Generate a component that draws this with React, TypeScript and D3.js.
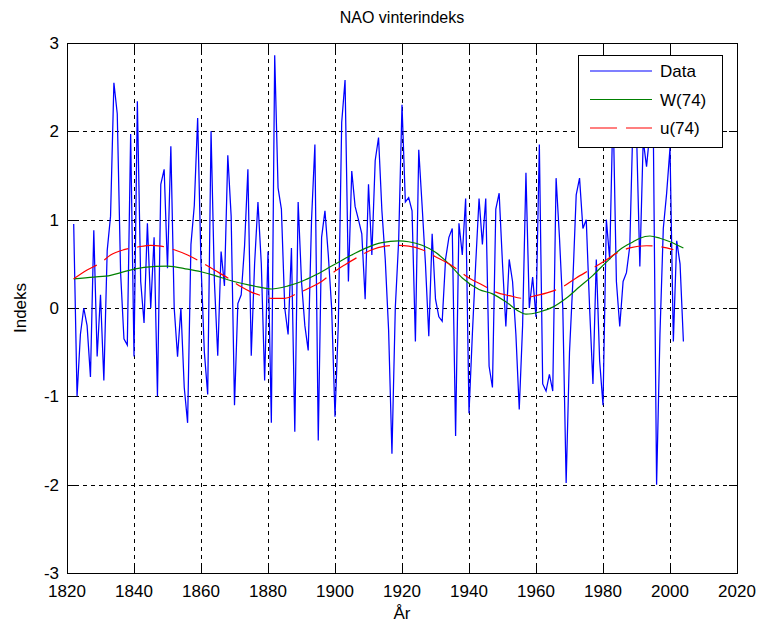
import React, { useEffect, useRef } from 'react';
import * as d3 from 'd3';

// NAO winter index, one value per year starting at startYear
const startYear = 1822;
const naoValues = [
  0.95, -1.0, -0.3, 0.0, -0.2, -0.78, 0.88, -0.55, 0.15, -0.82, // 1822-1831
  0.65, 1.04, 2.55, 2.2, 0.4, -0.35, -0.42, 1.97, -0.55, 2.34, // 1832-1841
  0.3, -0.17, 0.96, 0.0, 0.8, -1.0, 1.4, 1.57, 0.45, 1.83, // 1842-1851
  0.0, -0.55, 0.0, -0.9, -1.3, 0.72, 1.16, 2.15, 0.5, -0.5, // 1852-1861
  -0.98, 2.0, 0.3, -0.54, 0.64, 0.25, 1.73, 1.04, -1.1, 0.05, // 1862-1871
  0.15, 0.7, 1.57, -0.54, 0.5, 1.2, 0.5, -0.82, 0.64, -1.3, // 1872-1881
  2.86, 1.36, 1.12, 0.0, -0.3, 0.68, -1.4, 1.2, 0.3, -0.2, // 1882-1891
  -0.48, 1.0, 1.85, -1.5, 0.8, 1.1, 0.6, 0.0, -1.23, -0.17, // 1892-1901
  2.1, 2.58, 0.3, 1.55, 1.15, 1.0, 0.84, 0.1, 1.4, 0.6, // 1902-1911
  1.67, 1.93, 1.1, 0.55, -0.25, -1.65, 0.0, 0.76, 2.3, 1.2, // 1912-1921
  1.25, 1.1, -0.38, 1.79, 1.16, 0.5, -0.32, 0.84, 0.1, -0.1, // 1922-1931
  -0.15, 0.55, 0.8, 0.9, -1.45, 0.96, 0.6, 1.24, -1.19, -0.3, // 1932-1941
  0.5, 1.24, 0.72, 1.24, -0.66, -0.9, 1.12, 1.3, 0.5, -0.21, // 1942-1951
  0.55, 0.3, -0.3, -1.15, -0.2, 1.53, 0.0, 0.35, -0.1, 1.85, // 1952-1961
  -0.86, -0.94, -0.75, -0.94, 1.47, 0.8, 0.0, -1.98, -0.5, 0.3, // 1962-1971
  1.28, 1.47, 0.9, 1.0, 0.0, -0.86, 0.55, -0.6, -1.1, 1.0, // 1972-1981
  0.55, 2.3, 0.3, -0.21, 0.3, 0.4, 0.7, 2.2, 2.0, 0.47, // 1982-1991
  1.9, 1.6, 2.0, 2.1, -2.0, -0.3, 0.9, 1.3, 1.81, -0.38, // 1992-2001
  0.76, 0.5, -0.38, // 2002-2004
];

// W(74) smoothed curve
const wYears = [1822, 1828, 1833, 1836, 1840, 1843, 1850, 1856, 1860, 1864, 1868, 1872, 1877, 1881, 1886, 1890, 1894, 1899, 1904, 1909, 1914, 1919, 1922, 1926, 1930, 1934, 1938, 1943, 1947, 1951, 1955, 1957, 1961, 1965, 1969, 1973, 1977, 1981, 1985, 1989, 1991, 1994, 1997, 2000, 2004];
const wValues = [0.33, 0.35, 0.37, 0.4, 0.44, 0.46, 0.475, 0.44, 0.41, 0.37, 0.32, 0.28, 0.24, 0.215, 0.25, 0.3, 0.37, 0.475, 0.58, 0.675, 0.74, 0.76, 0.75, 0.71, 0.63, 0.5, 0.34, 0.21, 0.16, 0.07, -0.04, -0.07, -0.045, 0.01, 0.11, 0.24, 0.37, 0.52, 0.66, 0.75, 0.79, 0.815, 0.79, 0.75, 0.68];

// u(74) smoothed curve
const uYears = [1822, 1826, 1830, 1833, 1837, 1841, 1845, 1848, 1852, 1856, 1860, 1864, 1868, 1872, 1875, 1878, 1881, 1885, 1889, 1892, 1896, 1899, 1903, 1907, 1911, 1915, 1918, 1922, 1926, 1930, 1934, 1936, 1940, 1944, 1948, 1952, 1956, 1960, 1964, 1968, 1972, 1976, 1980, 1984, 1988, 1993, 1996, 1999, 2001];
const uValues = [0.33, 0.43, 0.51, 0.6, 0.66, 0.69, 0.71, 0.7, 0.66, 0.6, 0.52, 0.43, 0.34, 0.24, 0.18, 0.14, 0.11, 0.11, 0.17, 0.22, 0.3, 0.39, 0.49, 0.58, 0.66, 0.7, 0.71, 0.7, 0.66, 0.58, 0.5, 0.45, 0.34, 0.26, 0.18, 0.14, 0.11, 0.14, 0.18, 0.24, 0.34, 0.43, 0.52, 0.62, 0.68, 0.705, 0.7, 0.68, 0.66];

const xTicks = [1820, 1840, 1860, 1880, 1900, 1920, 1940, 1960, 1980, 2000, 2020];
const yTicks = [-3, -2, -1, 0, 1, 2, 3];
const legendLabels = ['Data', 'W(74)', 'u(74)'];

const W = 760;
const H = 623;
const plot = { left: 67, right: 737, top: 43, bottom: 573 };
const font = '"Liberation Sans", Arial, Helvetica, sans-serif';

const App: React.FC = () => {
  const svgRef = useRef<SVGSVGElement>(null);

  useEffect(() => {
    if (!svgRef.current) return;
    const svg = d3.select(svgRef.current);
    svg.selectAll('*').remove();

    const x = d3.scaleLinear().domain([1820, 2020]).range([plot.left, plot.right]);
    const y = d3.scaleLinear().domain([-3, 3]).range([plot.bottom, plot.top]);
    const px = (v: number) => Math.round(v) + 0.5;

    svg.append('rect').attr('width', W).attr('height', H).attr('fill', '#fff');

    // grid
    const grid = svg.append('g')
      .attr('stroke', '#000')
      .attr('stroke-width', 1)
      .attr('stroke-dasharray', '4,4')
      .attr('shape-rendering', 'crispEdges');
    grid.selectAll('line.v')
      .data(xTicks.slice(1, -1))
      .join('line')
      .attr('x1', d => px(x(d))).attr('x2', d => px(x(d)))
      .attr('y1', plot.top).attr('y2', plot.bottom);
    grid.selectAll('line.h')
      .data(yTicks.slice(1, -1))
      .join('line')
      .attr('x1', plot.left).attr('x2', plot.right)
      .attr('y1', d => px(y(d))).attr('y2', d => px(y(d)));

    // data
    const dataLine = d3.line<number>()
      .x((_, i) => x(startYear + i))
      .y(d => y(d));
    svg.append('path')
      .datum(naoValues)
      .attr('d', dataLine)
      .attr('fill', 'none')
      .attr('stroke', '#0000ff')
      .attr('stroke-width', 1.25);

    const smooth = d3.line<[number, number]>()
      .x(d => x(d[0]))
      .y(d => y(d[1]))
      .curve(d3.curveMonotoneX);

    svg.append('path')
      .datum(wYears.map((yr, i) => [yr, wValues[i]] as [number, number]))
      .attr('d', smooth)
      .attr('fill', 'none')
      .attr('stroke', '#008000')
      .attr('stroke-width', 1.2);

    svg.append('path')
      .datum(uYears.map((yr, i) => [yr, uValues[i]] as [number, number]))
      .attr('d', smooth)
      .attr('fill', 'none')
      .attr('stroke', '#ff0000')
      .attr('stroke-width', 1.2)
      .attr('stroke-dasharray', '27,9');

    // axes box + inward ticks on all sides
    const axes = svg.append('g')
      .attr('stroke', '#000')
      .attr('stroke-width', 1)
      .attr('shape-rendering', 'crispEdges');
    axes.append('rect')
      .attr('x', px(plot.left)).attr('y', px(plot.top))
      .attr('width', Math.round(plot.right) - Math.round(plot.left))
      .attr('height', Math.round(plot.bottom) - Math.round(plot.top))
      .attr('fill', 'none');
    const tl = 8;
    xTicks.forEach(t => {
      const xp = px(x(t));
      axes.append('line').attr('x1', xp).attr('x2', xp).attr('y1', plot.bottom).attr('y2', plot.bottom - tl);
      axes.append('line').attr('x1', xp).attr('x2', xp).attr('y1', plot.top).attr('y2', plot.top + tl);
    });
    yTicks.forEach(t => {
      const yp = px(y(t));
      axes.append('line').attr('x1', plot.left).attr('x2', plot.left + tl).attr('y1', yp).attr('y2', yp);
      axes.append('line').attr('x1', plot.right).attr('x2', plot.right - tl).attr('y1', yp).attr('y2', yp);
    });

    // tick labels
    svg.append('g')
      .selectAll('text')
      .data(xTicks)
      .join('text')
      .attr('x', d => x(d))
      .attr('y', 597)
      .attr('text-anchor', 'middle')
      .style('font-family', font)
      .style('font-size', '17px')
      .text(d => d);
    svg.append('g')
      .selectAll('text')
      .data(yTicks)
      .join('text')
      .attr('x', 59)
      .attr('y', d => y(d) + 6)
      .attr('text-anchor', 'end')
      .style('font-family', font)
      .style('font-size', '17px')
      .text(d => d);

    // titles
    svg.append('text')
      .attr('x', (plot.left + plot.right) / 2)
      .attr('y', 23)
      .attr('text-anchor', 'middle')
      .style('font-family', font)
      .style('font-size', '16px')
      .text('NAO vinterindeks');
    svg.append('text')
      .attr('x', (plot.left + plot.right) / 2)
      .attr('y', 619)
      .attr('text-anchor', 'middle')
      .style('font-family', font)
      .style('font-size', '17px')
      .text('År');
    svg.append('text')
      .attr('transform', `translate(26,${(plot.top + plot.bottom) / 2}) rotate(-90)`)
      .attr('text-anchor', 'middle')
      .style('font-family', font)
      .style('font-size', '17px')
      .text('Indeks');

    // legend
    const lg = svg.append('g');
    lg.append('rect')
      .attr('x', 578.5).attr('y', 55.5)
      .attr('width', 144).attr('height', 92)
      .attr('fill', '#fff')
      .attr('stroke', '#000')
      .attr('shape-rendering', 'crispEdges');
    const legendColors = ['#0000ff', '#008000', '#ff0000'];
    const legendDash = [null, null, '27,9'];
    legendLabels.forEach((lab, i) => {
      const ly = 71 + i * 28.5;
      lg.append('line')
        .attr('x1', 590).attr('x2', 652)
        .attr('y1', ly).attr('y2', ly)
        .attr('stroke', legendColors[i])
        .attr('stroke-width', 1.2)
        .attr('stroke-dasharray', legendDash[i]);
      lg.append('text')
        .attr('x', 660)
        .attr('y', ly + 6)
        .style('font-family', font)
        .style('font-size', '17px')
        .text(lab);
    });
  }, []);

  return (
    <svg
      ref={svgRef}
      width={W}
      height={H}
      style={{ position: 'absolute', left: 0, top: 0, display: 'block' }}
    />
  );
};

export default App;
